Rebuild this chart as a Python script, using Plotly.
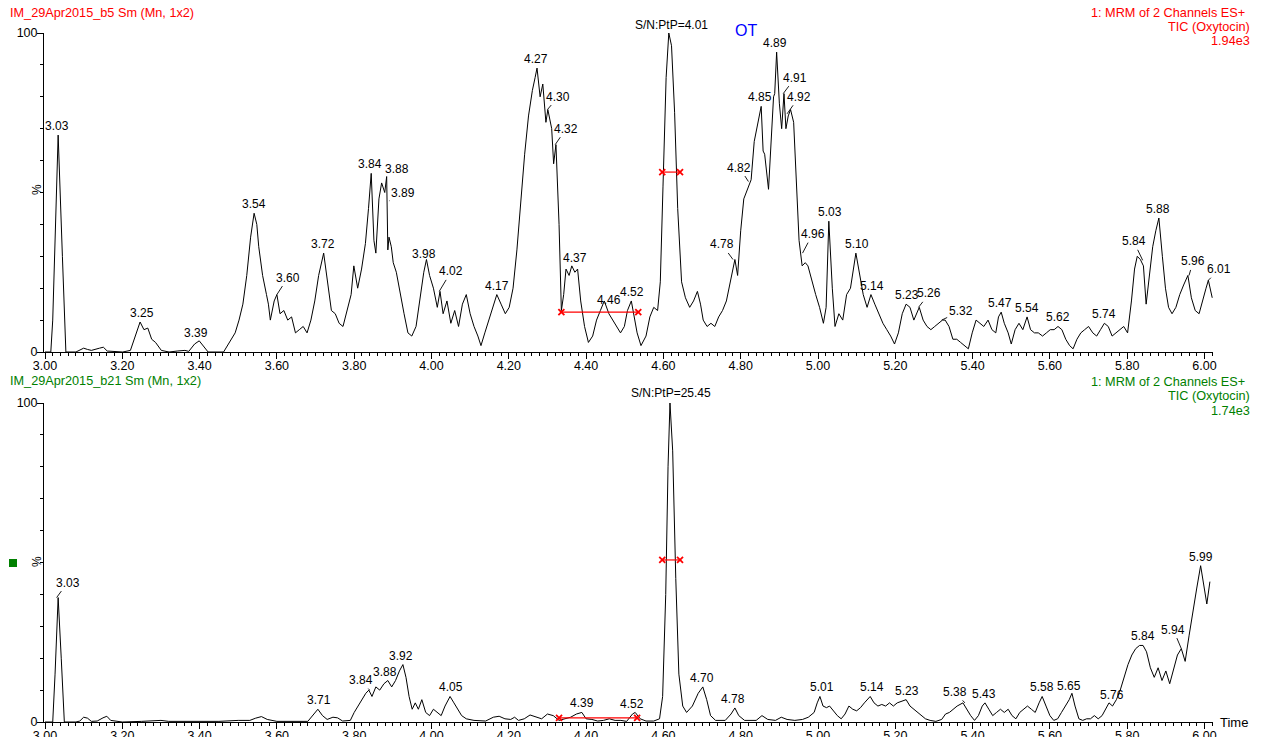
import numpy as np
import plotly.graph_objects as go

# ---------------- DATA ----------------
top_t = [3.000, 3.015, 3.020, 3.034, 3.045, 3.054, 3.080, 3.090, 3.100, 3.110, 3.120, 3.141, 3.151, 3.161,
         3.201, 3.221, 3.231, 3.246, 3.256, 3.266, 3.276, 3.286, 3.301, 3.321, 3.342, 3.362, 3.372, 3.387,
         3.399, 3.412, 3.422, 3.462, 3.472, 3.482, 3.492, 3.502, 3.512, 3.522, 3.532, 3.541, 3.548, 3.553,
         3.563, 3.573, 3.578, 3.583, 3.593, 3.600, 3.608, 3.618, 3.628, 3.638, 3.648, 3.658, 3.668, 3.678,
         3.688, 3.698, 3.708, 3.721, 3.731, 3.741, 3.751, 3.761, 3.771, 3.781, 3.792, 3.799, 3.809, 3.819,
         3.829, 3.837, 3.844, 3.851, 3.856, 3.864, 3.871, 3.879, 3.884, 3.887, 3.890, 3.896, 3.901, 3.909,
         3.919, 3.929, 3.939, 3.949, 3.960, 3.970, 3.980, 3.987, 3.995, 4.005, 4.015, 4.022, 4.030, 4.040,
         4.050, 4.060, 4.070, 4.080, 4.090, 4.100, 4.110, 4.120, 4.128, 4.138, 4.148, 4.160, 4.169, 4.180,
         4.191, 4.201, 4.211, 4.221, 4.231, 4.241, 4.251, 4.261, 4.268, 4.273, 4.281, 4.288, 4.296, 4.301,
         4.311, 4.316, 4.322, 4.330, 4.336, 4.342, 4.348, 4.356, 4.363, 4.371, 4.378, 4.386, 4.396, 4.406,
         4.417, 4.427, 4.437, 4.447, 4.459, 4.469, 4.479, 4.489, 4.499, 4.507, 4.517, 4.524, 4.532, 4.542,
         4.555, 4.565, 4.575, 4.585, 4.592, 4.599, 4.607, 4.614, 4.621, 4.629, 4.637, 4.647, 4.657, 4.668,
         4.678, 4.688, 4.696, 4.703, 4.713, 4.723, 4.733, 4.743, 4.753, 4.763, 4.773, 4.779, 4.785, 4.792,
         4.800, 4.808, 4.814, 4.820, 4.827, 4.835, 4.844, 4.853, 4.858, 4.862, 4.872, 4.885, 4.888, 4.893,
         4.900, 4.906, 4.912, 4.917, 4.923, 4.929, 4.937, 4.944, 4.951, 4.959, 4.967, 4.974, 4.984, 4.994,
         5.004, 5.014, 5.021, 5.028, 5.037, 5.044, 5.054, 5.064, 5.074, 5.084, 5.098, 5.107, 5.117, 5.127,
         5.137, 5.147, 5.157, 5.168, 5.178, 5.188, 5.198, 5.208, 5.218, 5.228, 5.238, 5.248, 5.262, 5.272,
         5.282, 5.292, 5.302, 5.312, 5.322, 5.329, 5.339, 5.349, 5.359, 5.369, 5.379, 5.389, 5.399, 5.409,
         5.419, 5.429, 5.440, 5.450, 5.460, 5.467, 5.474, 5.482, 5.492, 5.500, 5.510, 5.520, 5.530, 5.541,
         5.550, 5.560, 5.570, 5.581, 5.591, 5.601, 5.611, 5.621, 5.631, 5.641, 5.651, 5.660, 5.670, 5.680,
         5.690, 5.700, 5.711, 5.721, 5.731, 5.741, 5.751, 5.761, 5.771, 5.781, 5.791, 5.801, 5.811, 5.819,
         5.826, 5.834, 5.842, 5.849, 5.857, 5.866, 5.874, 5.882, 5.891, 5.899, 5.907, 5.916, 5.926, 5.936,
         5.946, 5.957, 5.966, 5.976, 5.986, 5.994, 6.004, 6.010, 6.020]
top_v = [0, 0, 10, 68, 30, 0, 0, 0.5, 1.2, 0.8, 0.5, 1.2, 1.5, 0.3,
         0, 0.5, 4, 9.4, 7, 7.5, 4, 3, 0.5, 0, 0.3, 0.5, 0.2, 2.5,
         3.5, 1.5, 0, 0, 2, 4, 6, 10, 15, 24, 36, 43.5, 40, 33,
         24, 18, 15, 10, 16, 18, 12, 13, 10, 11, 6, 7, 8, 6,
         10, 16, 24, 31, 22, 13, 12, 9, 8, 13, 18, 27, 20, 26,
         34, 45, 56, 35, 31, 48, 53, 50, 55, 32, 36, 33, 28, 25,
         18, 12, 6, 5, 8, 17, 25, 29, 24, 20, 14, 19, 12, 16,
         9, 13, 8, 15, 18, 12, 8, 5, 2, 6, 10, 15, 18, 15,
         12, 14, 20, 32, 48, 62, 74, 82, 86, 89, 80, 84, 72, 76,
         70, 59, 65, 40, 13, 18, 26, 24, 27, 25, 26, 16, 8, 3,
         5, 10, 13, 16, 12, 10, 8, 6, 8, 13, 16, 11, 6, 2,
         5, 11, 14, 13, 22, 52, 86, 100, 96, 75, 45, 22, 17, 14,
         16, 19, 15, 10, 8, 9, 8, 11, 13, 16, 22, 26, 29, 24,
         38, 48, 50, 52, 54, 66, 72, 77, 63, 62, 51, 80, 81, 94,
         78, 70, 81, 70, 74, 76, 72, 55, 35, 27, 28, 27, 22, 18,
         14, 9, 14, 41, 20, 8, 12, 10, 18, 20, 31, 25, 18, 14,
         18, 15, 12, 9, 7, 5, 2.5, 6, 12, 15, 14, 10, 14, 10,
         8, 7, 8, 9, 10, 10, 8, 4, 4, 3, 2, 1, 6, 10,
         9, 8, 10, 7, 6, 11, 12.5, 9, 6, 2.5, 7, 9, 7, 11,
         7, 6, 6, 5, 6, 7, 7, 8, 7, 4, 2, 1, 4, 6,
         7, 8, 6, 5, 7, 9, 8, 5, 6, 7, 8, 6, 16, 26,
         30, 29, 27, 15, 24, 33, 38, 42, 30, 20, 14, 12, 14, 18,
         21, 24, 17, 13, 12, 16, 20, 22.5, 17]

bot_t = [3.000, 3.020, 3.026, 3.034, 3.042, 3.050, 3.080, 3.090, 3.100, 3.110, 3.120, 3.135, 3.150, 3.160,
         3.170, 3.200, 3.250, 3.300, 3.320, 3.400, 3.450, 3.500, 3.530, 3.545, 3.560, 3.575, 3.600, 3.680,
         3.695, 3.706, 3.718, 3.730, 3.745, 3.757, 3.770, 3.790, 3.800, 3.810, 3.820, 3.830, 3.838, 3.846,
         3.856, 3.866, 3.877, 3.887, 3.897, 3.907, 3.917, 3.926, 3.934, 3.942, 3.950, 3.958, 3.966, 3.975,
         3.985, 3.995, 4.005, 4.015, 4.025, 4.035, 4.048, 4.058, 4.068, 4.078, 4.090, 4.110, 4.140, 4.160,
         4.175, 4.190, 4.205, 4.215, 4.225, 4.240, 4.255, 4.270, 4.285, 4.300, 4.315, 4.330, 4.345, 4.360,
         4.375, 4.389, 4.400, 4.415, 4.430, 4.445, 4.460, 4.475, 4.490, 4.505, 4.520, 4.527, 4.540, 4.555,
         4.575, 4.590, 4.598, 4.606, 4.612, 4.617, 4.624, 4.632, 4.640, 4.650, 4.660, 4.675, 4.690, 4.702,
         4.712, 4.722, 4.735, 4.760, 4.775, 4.785, 4.795, 4.810, 4.840, 4.855, 4.870, 4.890, 4.905, 4.920,
         4.940, 4.960, 4.975, 4.990, 4.998, 5.005, 5.013, 5.022, 5.030, 5.040, 5.050, 5.060, 5.070, 5.080,
         5.090, 5.100, 5.110, 5.120, 5.128, 5.135, 5.145, 5.155, 5.165, 5.175, 5.185, 5.195, 5.205, 5.215,
         5.228, 5.238, 5.248, 5.258, 5.268, 5.278, 5.290, 5.305, 5.320, 5.330, 5.340, 5.350, 5.360, 5.375,
         5.385, 5.395, 5.405, 5.415, 5.425, 5.432, 5.442, 5.452, 5.462, 5.472, 5.482, 5.492, 5.502, 5.512,
         5.522, 5.532, 5.542, 5.552, 5.562, 5.572, 5.580, 5.590, 5.600, 5.610, 5.620, 5.630, 5.640, 5.650,
         5.657, 5.665, 5.675, 5.685, 5.695, 5.705, 5.715, 5.725, 5.735, 5.745, 5.753, 5.762, 5.772, 5.782,
         5.792, 5.802, 5.812, 5.822, 5.832, 5.841, 5.850, 5.860, 5.870, 5.880, 5.890, 5.900, 5.910, 5.920,
         5.930, 5.940, 5.950, 5.960, 5.970, 5.980, 5.990, 5.998, 6.006, 6.014]
bot_v = [0, 0, 15, 39, 20, 0, 0, 0.3, 1.5, 1.2, 0.2, 0.3, 1.3, 1.8,
         0.5, 0, 0.2, 0.5, 0.2, 0.3, 0.2, 0.5, 0.5, 1.2, 1.7, 0.8, 0.2, 0.2,
         2.5, 4, 2, 0.8, 1.5, 1.3, 0.3, 0.5, 3, 5, 7, 9, 10, 8,
         11, 10, 12, 13, 11, 13, 16, 18, 14, 8, 4, 6, 4, 7,
         3, 2, 4, 3, 2, 5, 8, 6, 4, 2, 1, 0.5, 0.3, 1.5,
         1.8, 1, 0.8, 1.5, 0.5, 1, 2.2, 1.5, 1, 2.5, 2, 0.5, 1, 1.5,
         2.5, 3, 1, 0.8, 0.3, 0.5, 1, 0.5, 0.5, 0.2, 2.5, 3, 1, 0.3,
         0.3, 1, 8, 40, 80, 100, 85, 45, 15, 5, 3, 5, 9, 11,
         7, 2, 0.5, 0.5, 2.5, 4.4, 2, 0.5, 0.5, 2, 0.8, 0.5, 1.5, 0.8,
         0.5, 0.8, 1.5, 3, 6, 8, 5, 4.5, 5, 3.5, 2, 1, 2.5, 5,
         4, 3.5, 4.5, 6, 7, 8, 6, 5, 5.5, 5, 6, 5, 6, 6.5,
         7, 5, 4, 3, 2, 1, 0.5, 0.2, 0.8, 2.5, 3, 4, 5, 6,
         4, 2, 0.5, 2, 5, 6, 4, 2, 3, 4, 3, 4, 2, 1,
         3, 4, 5, 4, 3, 6, 8, 5, 2, 0.5, 1, 3, 5, 7,
         9, 5, 1, 0.5, 1, 1, 2, 1, 2, 4, 6, 5, 7, 10,
         14, 18, 21, 23, 24, 24, 22, 17, 14, 17, 13, 16, 12, 17,
         21, 23, 19, 27, 35, 42, 49, 43, 37, 44]

top_labels = ["3.03", "3.25", "3.39", "3.54", "3.60", "3.72", "3.84", "3.88", "3.89", "3.98", "4.02",
              "4.17", "4.27", "4.30", "4.32", "4.37", "4.46", "4.52", "4.78", "4.82", "4.85", "4.89",
              "4.91", "4.92", "4.96", "5.03", "5.10", "5.14", "5.23", "5.26", "5.32", "5.47", "5.54",
              "5.62", "5.74", "5.84", "5.88", "5.96", "6.01"]
bot_labels = ["3.03", "3.71", "3.84", "3.88", "3.92", "4.05", "4.39", "4.52", "4.70", "4.78", "5.01",
              "5.14", "5.23", "5.38", "5.43", "5.58", "5.65", "5.76", "5.84", "5.94", "5.99"]

top_main_peak = 4.62
bot_main_peak = 4.62
top_sn_text = "S/N:PtP=4.01"
bot_sn_text = "S/N:PtP=25.45"

# noise / peak-width markers (time start, time end, level %)
top_noise_t = [4.336, 4.535]
top_noise_v = [12.5, 12.5]
top_width_t = [4.597, 4.643]
top_width_v = [56.4, 56.4]
bot_noise_t = [4.330, 4.532]
bot_noise_v = [1.3, 1.3]
bot_width_t = [4.597, 4.643]
bot_width_v = [50.8, 50.8]

top_header_left = "IM_29Apr2015_b5 Sm (Mn, 1x2)"
top_header_right = ["1: MRM of 2 Channels ES+", "TIC (Oxytocin)", "1.94e3"]
bot_header_left = "IM_29Apr2015_b21 Sm (Mn, 1x2)"
bot_header_right = ["1: MRM of 2 Channels ES+", "TIC (Oxytocin)", "1.74e3"]

# ---------------- STYLE / LAYOUT ----------------
W, H = 1263, 737
FONT = "Arial, Liberation Sans, sans-serif"
RED = "#ff0000"
GREEN = "#008000"
AX = "#000000"
HDR = 12.7

# leader-line offsets (px) for labels not placed directly above peak
top_leaders = {"3.60": (11, -17), "3.88": (12, -8), "3.89": (14, -8), "4.02": (12, -20),
               "4.30": (11, -13), "4.32": (11, -16), "4.78": (-11, -15), "4.82": (-9, -14),
               "4.91": (12, -16), "4.92": (12, -17), "4.96": (10, -19), "5.26": (11, -14),
               "5.32": (19, -9), "5.84": (-9, -19), "5.96": (4, -14), "6.01": (11, -11)}
bot_leaders = {"3.03": (11, -15), "3.84": (-9, -10), "5.38": (-10, -11), "5.94": (-8, -19)}


def px_x(p):
    return p / W


def px_y(p):
    return 1 - p / H


x_dom = [px_x(44), px_x(1213)]
x_rng = [2.9974, 6.022]
top_dom = [px_y(352), px_y(33)]
bot_dom = [px_y(722), px_y(403)]

fig = go.Figure()


def add_trace(t, v, xa, ya):
    fig.add_trace(go.Scatter(x=t, y=v, mode="lines", line=dict(color="#000", width=1),
                             xaxis=xa, yaxis=ya, hoverinfo="skip", cliponaxis=False))


def add_bar(t, v, xa, ya):
    fig.add_trace(go.Scatter(x=t, y=v, mode="lines+markers",
                             line=dict(color=RED, width=1.2),
                             marker=dict(symbol="x-thin", size=6, color=RED,
                                         line=dict(color=RED, width=1.8)),
                             xaxis=xa, yaxis=ya, hoverinfo="skip", cliponaxis=False))


add_trace(top_t, top_v, "x", "y")
add_trace(bot_t, bot_v, "x2", "y2")
add_bar(top_noise_t, top_noise_v, "x", "y")
add_bar(top_width_t, top_width_v, "x", "y")
add_bar(bot_noise_t, bot_noise_v, "x2", "y2")
add_bar(bot_width_t, bot_width_v, "x2", "y2")

annotations = []


def peak_val(t, v, tc):
    tt = np.linspace(tc - 0.005, tc + 0.005, 41)
    return float(np.max(np.interp(tt, t, v)))


def add_labels(labels, t, v, leaders, xr, yr):
    for lab in labels:
        tc = float(lab)
        yv = peak_val(t, v, tc)
        if lab in leaders:
            ax, ay = leaders[lab]
            annotations.append(dict(x=tc, y=yv, xref=xr, yref=yr, text=lab, showarrow=True,
                                    arrowhead=0, arrowwidth=0.9, arrowcolor="#000", ax=ax, ay=ay,
                                    standoff=0, font=dict(size=12, color="#000", family=FONT)))
        else:
            annotations.append(dict(x=tc, y=yv, xref=xr, yref=yr, text=lab, showarrow=False,
                                    yanchor="bottom", yshift=0,
                                    font=dict(size=12, color="#000", family=FONT)))


add_labels(top_labels, top_t, top_v, top_leaders, "x", "y")
add_labels(bot_labels, bot_t, bot_v, bot_leaders, "x2", "y2")

annotations.append(dict(x=top_main_peak, y=peak_val(top_t, top_v, top_main_peak), xref="x", yref="y",
                        text=top_sn_text, showarrow=False, yanchor="bottom", yshift=1,
                        font=dict(size=12, color="#000", family=FONT)))
annotations.append(dict(x=bot_main_peak, y=peak_val(bot_t, bot_v, bot_main_peak), xref="x2", yref="y2",
                        text=bot_sn_text, showarrow=False, yanchor="bottom", yshift=1,
                        font=dict(size=12, color="#000", family=FONT)))

# OT label
annotations.append(dict(x=px_x(746), y=px_y(30), xref="paper", yref="paper", text="OT",
                        showarrow=False, xanchor="center", yanchor="middle",
                        font=dict(size=16, color="#0000ff", family=FONT)))

# headers
annotations.append(dict(x=px_x(8), y=px_y(13), xref="paper", yref="paper", text=top_header_left,
                        showarrow=False, xanchor="left", yanchor="middle",
                        font=dict(size=HDR, color=RED, family=FONT)))
annotations.append(dict(x=px_x(8), y=px_y(381), xref="paper", yref="paper", text=bot_header_left,
                        showarrow=False, xanchor="left", yanchor="middle",
                        font=dict(size=HDR, color=GREEN, family=FONT)))
for i, (txt, yy) in enumerate(zip(top_header_right, [13, 27, 41])):
    annotations.append(dict(x=px_x(1247 if i == 0 else 1252), y=px_y(yy), xref="paper", yref="paper",
                            text=txt, showarrow=False, xanchor="right", yanchor="middle",
                            font=dict(size=HDR, color=RED, family=FONT)))
for i, (txt, yy) in enumerate(zip(bot_header_right, [382, 396, 411])):
    annotations.append(dict(x=px_x(1247 if i == 0 else 1252), y=px_y(yy), xref="paper", yref="paper",
                            text=txt, showarrow=False, xanchor="right", yanchor="middle",
                            font=dict(size=HDR, color=GREEN, family=FONT)))

# % labels
for yy in [190, 562]:
    annotations.append(dict(x=px_x(37), y=px_y(yy), xref="paper", yref="paper", text="%",
                            showarrow=False, textangle=-90, xanchor="center", yanchor="middle",
                            font=dict(size=12, color="#000", family=FONT)))

annotations.append(dict(x=px_x(1218), y=px_y(722), xref="paper", yref="paper", text="Time",
                        showarrow=False, xanchor="left", yanchor="middle",
                        font=dict(size=13, color="#000", family=FONT)))

shapes = [dict(type="rect", xref="paper", yref="paper", x0=px_x(9), x1=px_x(17),
               y0=px_y(567), y1=px_y(559), fillcolor=GREEN, line=dict(width=0))]


def xaxis_cfg(anchor):
    return dict(domain=x_dom, range=x_rng, anchor=anchor, showline=True, linecolor=AX, linewidth=1,
                ticks="outside", ticklen=6, tickwidth=1, tickcolor=AX, tickmode="linear", tick0=3.0,
                dtick=0.2, tickformat=".2f", tickfont=dict(size=12.5, color="#000", family=FONT),
                ticklabelstandoff=-4,
                minor=dict(dtick=0.02, tick0=3.0, ticks="outside", ticklen=3, tickcolor=AX, showgrid=False),
                showgrid=False, zeroline=False, fixedrange=True, automargin=False)


def yaxis_cfg(dom, anchor):
    return dict(domain=dom, range=[0, 100], anchor=anchor, showline=True, linecolor=AX, linewidth=1,
                ticks="outside", ticklen=6, tickwidth=1, tickcolor=AX, tickmode="array",
                tickvals=[0, 100], ticktext=["0", "100"], tickfont=dict(size=12.5, color="#000", family=FONT),
                ticklabelstandoff=-3,
                minor=dict(dtick=10, tick0=0, ticks="outside", ticklen=3, tickcolor=AX, showgrid=False),
                showgrid=False, zeroline=False, fixedrange=True, automargin=False)


fig.update_layout(
    width=W, height=H, margin=dict(l=0, r=0, t=0, b=0, pad=0, autoexpand=False), autosize=False,
    paper_bgcolor="white", plot_bgcolor="white", showlegend=False,
    xaxis=xaxis_cfg("y"), yaxis=yaxis_cfg(top_dom, "x"),
    xaxis2=xaxis_cfg("y2"), yaxis2=yaxis_cfg(bot_dom, "x2"),
    annotations=annotations, shapes=shapes,
    font=dict(family=FONT, size=12, color="#000"),
)

fig.write_html("out.html", config={"displayModeBar": False},
               post_script="document.body.style.margin='0';document.body.style.overflow='hidden';")
